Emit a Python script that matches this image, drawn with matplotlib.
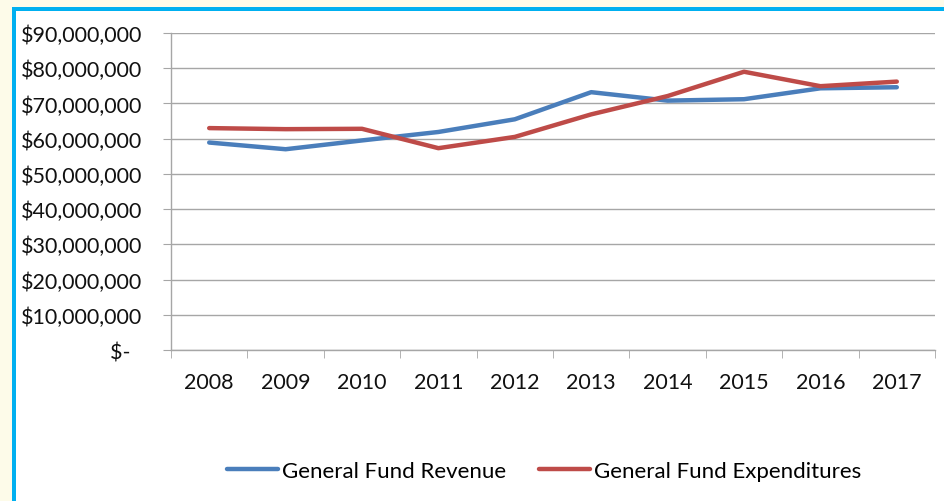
import numpy as np
import matplotlib.pyplot as plt
from matplotlib.patches import Rectangle

years = ['2008', '2009', '2010', '2011', '2012', '2013', '2014', '2015', '2016', '2017']
revenue = [58.9, 57.0, 59.5, 61.9, 65.5, 73.2, 70.8, 71.2, 74.3, 74.6]
expenditures = [63.0, 62.7, 62.8, 57.3, 60.5, 66.9, 72.1, 79.0, 74.9, 76.2]
y_ticks = [0, 10, 20, 30, 40, 50, 60, 70, 80, 90]
y_labels = ['$-  ', '$10,000,000', '$20,000,000', '$30,000,000', '$40,000,000',
            '$50,000,000', '$60,000,000', '$70,000,000', '$80,000,000', '$90,000,000']

plt.rcParams['font.family'] = ['Lato', 'DejaVu Sans']

fig = plt.figure(figsize=(9.44, 5.02), dpi=100)
fig.patch.set_facecolor('white')

# frame around the picture
fig.patches.append(Rectangle((0, 0), 1, 1, transform=fig.transFigure,
                             facecolor='#fdfbe9', edgecolor='none', zorder=-3))
fig.patches.append(Rectangle((12/944, 0), 1, 1 - 8/502, transform=fig.transFigure,
                             facecolor='#00b0f0', edgecolor='none', zorder=-2))
fig.patches.append(Rectangle((16/944, 0), 1, 1 - 12/502, transform=fig.transFigure,
                             facecolor='white', edgecolor='none', zorder=-1))

ax = fig.add_axes([171/944, 1 - 351/502, (935 - 171)/944, (351 - 34)/502])
ax.set_facecolor('none')
x = np.arange(len(years))

ax.plot(x, revenue, color='#4a7ebb', lw=3.2, solid_capstyle='round', label='General Fund Revenue')
ax.plot(x, expenditures, color='#be4b48', lw=3.2, solid_capstyle='round', label='General Fund Expenditures')

ax.set_xlim(-0.5, len(years) - 0.5)
ax.set_ylim(0, 90)
ax.set_yticks(y_ticks)
ax.set_yticklabels(y_labels)
ax.set_xticks(x)
ax.set_xticklabels(years)
ax.set_xticks(np.arange(-0.5, len(years)), minor=True)

ax.grid(axis='y', color='#a6a6a6', lw=1)
ax.set_axisbelow(True)
for s in ['top', 'right']:
    ax.spines[s].set_visible(False)
for s in ['left', 'bottom']:
    ax.spines[s].set_color('#a6a6a6')
    ax.spines[s].set_linewidth(1)

ax.tick_params(axis='y', length=6, color='#a6a6a6', labelsize=15.5, pad=15, labelcolor='#111111')
ax.tick_params(axis='x', which='major', length=0, labelsize=15.5, pad=16, labelcolor='#111111')
ax.tick_params(axis='x', which='minor', length=6, color='#a6a6a6')

ax.legend(loc='center', bbox_to_anchor=(544/944, 1 - 472/502), bbox_transform=fig.transFigure,
          ncol=2, frameon=False, fontsize=16, handlelength=2.3, handletextpad=0.15,
          columnspacing=1.5)

fig.savefig('out.png', dpi=100)
